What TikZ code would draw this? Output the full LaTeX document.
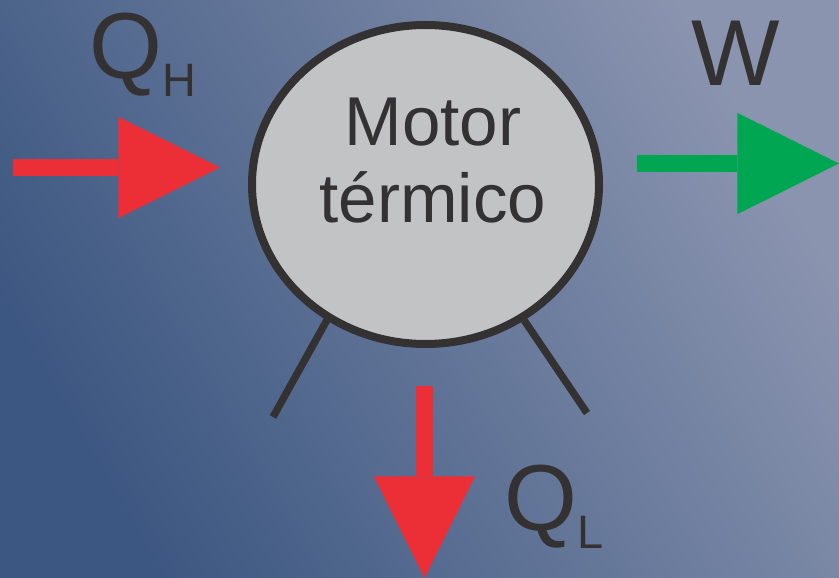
\documentclass[tikz,border=0pt]{standalone}
\usepackage{fontspec}
\setmainfont{Liberation Sans}
\usetikzlibrary{arrows.meta,shapes.geometric}
\definecolor{bgdark}{HTML}{3C5781}
\definecolor{bglight}{HTML}{8A94AF}
\definecolor{ink}{HTML}{333132}
\definecolor{bodygray}{HTML}{C2C3C5}
\definecolor{heatred}{HTML}{EC2F36}
\definecolor{workgreen}{HTML}{00A651}
\newcommand{\lowsub}[1]{\raisebox{-5.4mm}{\fontsize{40}{40}\selectfont #1}}

\begin{document}
\begin{tikzpicture}[
  x=0.3mm, y=-0.3mm,
  engine/.style={ellipse, draw=ink, line width=2.4mm, fill=bodygray, minimum width=104.1mm, minimum height=95.7mm, inner sep=0pt},
  enginetext/.style={align=center, inner sep=0pt, text=ink, font=\fontsize{59}{65.5}\selectfont},
  leg/.style={draw=ink, line width=2.2mm},
  flow/.style={line width=5.1mm, -{Triangle[length=30.5mm, width=30.4mm, line width=0pt]}},
  qlabel/.style={anchor=base west, inner sep=0pt, text=ink, font=\fontsize{80}{80}\selectfont}
]

% Background
\useasboundingbox (0,0) rectangle (839,578);
\shade[left color=bgdark, right color=bglight, shading angle=120] (0,0) rectangle (839,578);

% Motor
\node[engine] (motor) at (425.5,184.5) {};
\node[enginetext] (motorname) at (433,160.5) {Motor\\térmico};

% Patas
\coordinate (legleftfoot) at (273,417);
\coordinate (legrightfoot) at (587,413);
\draw[leg] (motor.234) -- (legleftfoot);
\draw[leg] (motor.306) -- (legrightfoot);

% Flujos de energia
\coordinate (qhtail) at (13,167.5);
\coordinate (qhtip) at (220,167.5);
\coordinate (wtail) at (637,163.5);
\coordinate (wtip) at (839,163.5);
\coordinate (qltail) at (424.5,386);
\coordinate (qltip) at (424.5,578);
\draw[flow, heatred] (qhtail) -- (qhtip);
\draw[flow, workgreen] (wtail) -- (wtip);
\draw[flow, heatred] (qltail) -- (qltip);

% Etiquetas
\node[qlabel] (qh) at (89,79) {Q\lowsub{H}};
\node[qlabel] (w) at (691,86) {W};
\node[qlabel] (ql) at (504,531) {Q\lowsub{L}};

\end{tikzpicture}
\end{document}
